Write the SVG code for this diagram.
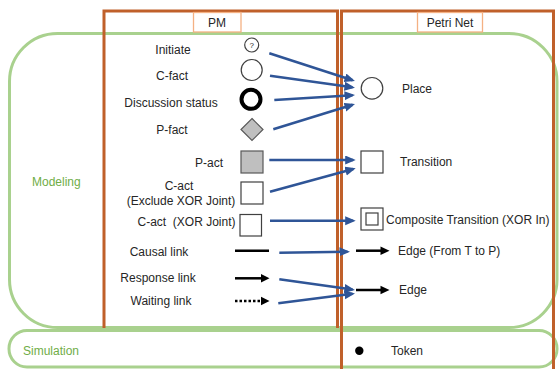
<svg xmlns="http://www.w3.org/2000/svg" width="560" height="369" viewBox="0 0 560 369">
<defs>
<style>
text{font-family:"Liberation Sans",Arial,sans-serif;font-size:12px;fill:#262626}
.c{text-anchor:middle}
.g{fill:#70ad47}
.lane{fill:none;stroke:#c0602a;stroke-width:3}
.hdr{fill:#fff;stroke:#f4b183;stroke-width:1.3}
.grp{fill:none;stroke:#a9d18e;stroke-width:3}
.blue{stroke:#2f5597;stroke-width:2.5;fill:none;marker-end:url(#bh)}
.blk{stroke:#000;stroke-width:2.5;fill:none}
.sym{fill:#fff;stroke:#404040;stroke-width:1.2}
</style>
<marker id="bh" markerUnits="userSpaceOnUse" markerWidth="11" markerHeight="10" refX="8" refY="4.5" orient="auto">
<path d="M0,0 L10.5,4.5 L0,9 z" fill="#2f5597"/>
</marker>
</defs>

<g id="modeling-group">
<rect class="grp" x="9.5" y="33.5" width="547.5" height="294" rx="48" ry="48"/>
<text class="g" x="32" y="186">Modeling</text>
</g>
<g id="simulation-group">
<rect class="grp" x="9" y="330.5" width="548" height="36.5" rx="18" ry="18"/>
<text class="g" x="23" y="355">Simulation</text>
</g>

<g id="lane-pm">
<path class="lane" d="M104,328 V11 H337.5 V328"/>
<rect class="hdr" x="193.5" y="12.5" width="47.5" height="19.5"/>
<text class="c" x="217" y="26.5">PM</text>
</g>
<g id="lane-petri">
<path class="lane" d="M341.5,369 V11 H553.5 V369"/>
<rect class="hdr" x="417.5" y="12.5" width="65" height="19.5"/>
<text class="c" x="450" y="27">Petri Net</text>
</g>

<g id="pm-initiate">
<text class="c" x="173" y="54">Initiate</text>
<circle class="sym" cx="251.7" cy="45" r="7"/>
<text class="c" x="251.7" y="48" style="font-size:8px">?</text>
</g>
<g id="pm-cfact">
<text class="c" x="172" y="80">C-fact</text>
<circle class="sym" cx="251.7" cy="70" r="10.5"/>
</g>
<g id="pm-discussion">
<text class="c" x="171" y="107">Discussion status</text>
<circle cx="251" cy="99.3" r="9.5" fill="#fff" stroke="#000" stroke-width="4"/>
</g>
<g id="pm-pfact">
<text class="c" x="172" y="134">P-fact</text>
<path d="M252,118.5 L263,129.5 L252,140.5 L241,129.5 z" fill="#bfbfbf" stroke="#595959" stroke-width="1.2"/>
</g>
<g id="pm-pact">
<text class="c" x="209" y="167">P-act</text>
<rect x="241" y="151" width="22" height="22" fill="#bfbfbf" stroke="#595959" stroke-width="1.2"/>
</g>
<g id="pm-cact-excl">
<text class="c" x="179" y="190">C-act</text>
<text class="c" x="181" y="205">(Exclude XOR Joint)</text>
<rect class="sym" x="241" y="182" width="22" height="22"/>
</g>
<g id="pm-cact-xor">
<text class="c" x="186.5" y="226" style="white-space:pre">C-act  (XOR Joint)</text>
<rect class="sym" x="240" y="214.5" width="21.5" height="21.5"/>
</g>
<g id="pm-causal">
<text class="c" x="159" y="256">Causal link</text>
<line class="blk" x1="235" y1="250.7" x2="269" y2="250.7"/>
</g>
<g id="pm-response">
<text class="c" x="158" y="282">Response link</text>
<line class="blk" x1="235" y1="278.3" x2="263" y2="278.3"/>
<path d="M261,274 L269.5,278.3 L261,282.6 z" fill="#000"/>
</g>
<g id="pm-waiting">
<text class="c" x="161" y="305">Waiting link</text>
<line class="blk" x1="235" y1="301" x2="262" y2="301" stroke-dasharray="2.5,2"/>
<path d="M261,296.7 L269.5,301 L261,305.3 z" fill="#000"/>
</g>

<g id="pn-place">
<circle class="sym" cx="372" cy="88.3" r="10.8"/>
<text x="402" y="93">Place</text>
</g>
<g id="pn-transition">
<rect class="sym" x="361" y="151" width="22" height="22"/>
<text x="400" y="166">Transition</text>
</g>
<g id="pn-composite">
<rect class="sym" x="361" y="208" width="22" height="22"/>
<rect class="sym" x="366" y="213" width="12" height="12"/>
<text x="386" y="223.5">Composite Transition (XOR In)</text>
</g>
<g id="pn-edge-tp">
<line class="blk" x1="356" y1="250.7" x2="382" y2="250.7"/>
<path d="M380.5,246.4 L389.5,250.7 L380.5,255 z" fill="#000"/>
<text x="398" y="254.5">Edge (From T to P)</text>
</g>
<g id="pn-edge">
<line class="blk" x1="356" y1="290" x2="382" y2="290"/>
<path d="M380.5,285.7 L389.5,290 L380.5,294.3 z" fill="#000"/>
<text x="399" y="294">Edge</text>
</g>
<g id="pn-token">
<circle cx="359.3" cy="350.7" r="4.2" fill="#000"/>
<text x="391" y="355">Token</text>
</g>

<g id="connectors">
<line class="blue" x1="269.3" y1="53.3" x2="352.6" y2="80.3"/>
<line class="blue" x1="270" y1="75.7" x2="352.5" y2="87.3"/>
<line class="blue" x1="274.3" y1="100" x2="352.5" y2="95.2"/>
<line class="blue" x1="273.3" y1="129.3" x2="352.6" y2="104.8"/>
<line class="blue" x1="269.3" y1="160" x2="353.2" y2="160"/>
<line class="blue" x1="270" y1="191.7" x2="353.3" y2="169"/>
<line class="blue" x1="270" y1="220.7" x2="353.2" y2="220.7"/>
<line class="blue" x1="279.3" y1="252.7" x2="347.5" y2="251.7"/>
<line class="blue" x1="279.3" y1="279.3" x2="352.5" y2="289.6"/>
<line class="blue" x1="278.3" y1="303.3" x2="352.5" y2="293.7"/>
</g>
</svg>
